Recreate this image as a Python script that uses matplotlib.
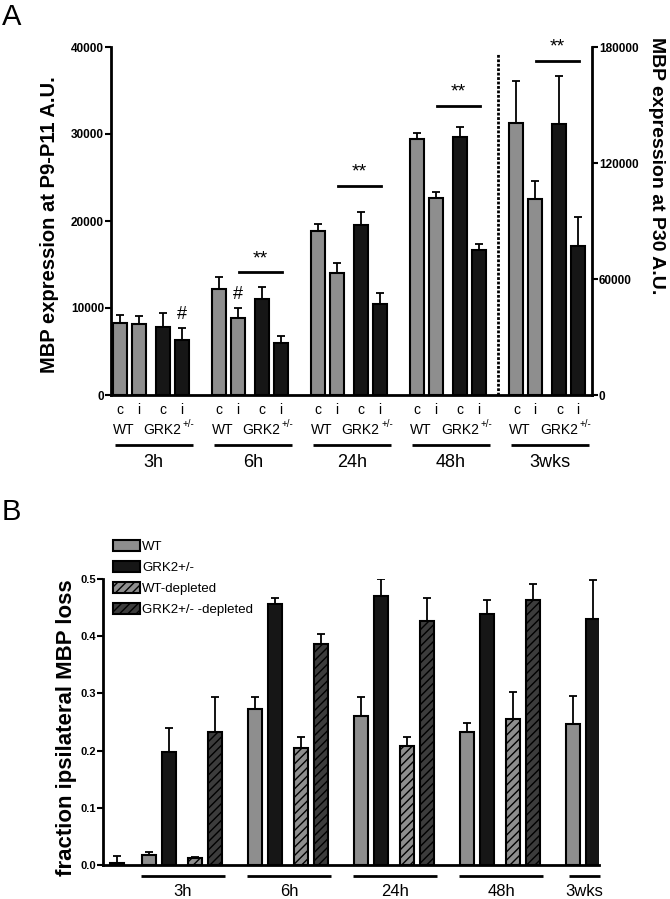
import numpy as np
import matplotlib.pyplot as plt

plt.rcParams['font.family'] = ['Liberation Sans', 'DejaVu Sans']
plt.rcParams['hatch.linewidth'] = 1.0

# ---- panel A data (P9-P11, left axis) ----
a_times = ['3h', '6h', '24h', '48h', '3wks']
a_wt_c = [8250, 12200, 18800, 29400]
a_wt_c_err = [1000, 1400, 850, 700]
a_wt_i = [8200, 8900, 14050, 22600]
a_wt_i_err = [900, 1100, 1100, 700]
a_grk_c = [7800, 11000, 19550, 29600]
a_grk_c_err = [1600, 1400, 1450, 1200]
a_grk_i = [6300, 6000, 10500, 16700]
a_grk_i_err = [1400, 800, 1200, 650]
# 3wks (P30, right axis): WT c, WT i, GRK c, GRK i
a_3wks = [140500, 101500, 140000, 77000]
a_3wks_err = [22000, 9000, 24800, 15200]
a_sig_left = [14100, 24050, 33250]   # ** lines for 6h, 24h, 48h
a_sig_right = 172900                 # ** line for 3wks
a_hash = [(0, 3, 9200), (1, 1, 11600)]  # (group, bar, y) of '#'

# ---- panel B data ----
b_times = ['3h', '6h', '24h', '48h', '3wks']
b_ctrl = [0.003]
b_ctrl_err = [0.013]
b_wt = [0.0175, 0.272, 0.261, 0.233, 0.246]
b_wt_err = [0.0055, 0.022, 0.033, 0.015, 0.049]
b_grk = [0.197, 0.456, 0.471, 0.438, 0.430]
b_grk_err = [0.042, 0.010, 0.029, 0.025, 0.069]
b_wt_dep = [0.0117, 0.205, 0.2085, 0.255]
b_wt_dep_err = [0.002, 0.019, 0.015, 0.048]
b_grk_dep = [0.232, 0.387, 0.427, 0.464]
b_grk_dep_err = [0.062, 0.017, 0.040, 0.028]

GREY = '#8e8e8e'
BLACK = '#161616'
DGREY = '#3c3c3c'
offs = np.array([0, 1, 2.3, 3.3])
period = 5.3

fig = plt.figure(figsize=(6.7, 8.99), dpi=100)

ekw = dict(capsize=3, elinewidth=1.3, capthick=1.3, ecolor='black')


def upbar(ax, x, h, err, w, **kw):
    h = np.asarray(h, float)
    return ax.bar(x, h, w, yerr=[np.zeros_like(h), err], error_kw=ekw,
                  edgecolor='black', linewidth=1.5, **kw)


# =================== panel A ===================
ax = fig.add_axes([111 / 670, 1 - 395 / 899, 481 / 670, 348 / 899])
g = np.arange(4) * period
w = 0.75
upbar(ax, g + offs[0], a_wt_c, a_wt_c_err, w, color=GREY)
upbar(ax, g + offs[1], a_wt_i, a_wt_i_err, w, color=GREY)
upbar(ax, g + offs[2], a_grk_c, a_grk_c_err, w, color=BLACK)
upbar(ax, g + offs[3], a_grk_i, a_grk_i_err, w, color=BLACK)

ax2 = ax.twinx()
x3 = 4 * period + offs
upbar(ax2, x3, a_3wks, a_3wks_err, w, color=[GREY, GREY, BLACK, BLACK])

ax.set_xlim(-0.48, 25.24)
ax.set_ylim(0, 40000)
ax2.set_ylim(0, 180000)
ax.set_yticks([0, 10000, 20000, 30000, 40000])
ax2.set_yticks([0, 60000, 120000, 180000])
for a in (ax, ax2):
    a.spines['top'].set_visible(False)
    a.tick_params(axis='y', length=4, width=1.5, labelsize=8.5, pad=1)
    for lab in a.get_yticklabels():
        lab.set_fontweight('bold')
ax.spines['right'].set_visible(False)
ax2.spines['left'].set_visible(False)
ax2.spines['bottom'].set_visible(False)
for s in ('left', 'bottom'):
    ax.spines[s].set_linewidth(2)
ax2.spines['right'].set_linewidth(2)

allx = (np.arange(5)[:, None] * period + offs[None, :]).ravel()
ax.set_xticks(allx)
ax.set_xticklabels(['c', 'i', 'c', 'i'] * 5, fontsize=10)
ax.tick_params(axis='x', length=0, pad=6)

xt = ax.get_xaxis_transform()
for k, t in enumerate(a_times):
    b = k * period
    ax.text(b + 0.2, -0.10, 'WT', transform=xt, ha='center', va='center', fontsize=10)
    gt = ax.text(b + 2.27, -0.10, 'GRK2', transform=xt, ha='center', va='center', fontsize=10)
    ax.annotate('+/-', xy=(1, 1), xycoords=gt, xytext=(1, -1),
                textcoords='offset points', ha='left', va='center', fontsize=7)
    ax.plot([b - 0.27, b + 3.9], [-0.144, -0.144], transform=xt, color='black',
            lw=2, clip_on=False, solid_capstyle='butt')
    ax.text(b + 1.8, -0.195, t, transform=xt, ha='center', va='center', fontsize=13)

# dotted separator
ax.axvline((3 * period + offs[3] + 4 * period) / 2, ymin=0, ymax=0.983,
           color='black', lw=2, dashes=(1.0, 0.6))

# significance
for k, y in enumerate(a_sig_left):
    b = (k + 1) * period
    ax.plot([b + 1.05, b + 3.35], [y, y], color='black', lw=2)
    ax.text(b + 2.2, y + 600, '**', ha='center', va='bottom', fontsize=14)
b = 4 * period
ax2.plot([b + 1.05, b + 3.35], [a_sig_right, a_sig_right], color='black', lw=2)
ax2.text(b + 2.2, a_sig_right + 2700, '**', ha='center', va='bottom', fontsize=14)
for gi, bi, y in a_hash:
    ax.text(gi * period + offs[bi], y, '#', ha='center', va='center', fontsize=13)

fig.text(50 / 670, 1 - 225 / 899, 'MBP expression at P9-P11 A.U.', rotation=90,
         ha='center', va='center', fontsize=14.5, fontweight='bold')
fig.text(657 / 670, 1 - 166 / 899, 'MBP expression at P30 A.U.', rotation=270,
         ha='center', va='center', fontsize=14, fontweight='bold')
fig.text(2 / 670, 1 - 3 / 899, 'A', ha='left', va='top', fontsize=21)

# =================== panel B ===================
bx = fig.add_axes([103 / 670, 1 - 865 / 899, 496 / 670, 286 / 899])
gb = 1.625 + np.arange(5) * period
gb4 = gb[:4]
wb = 0.7
upbar(bx, [0], b_ctrl, b_ctrl_err, wb, color='#c8c8c8')
h1 = upbar(bx, gb + offs[0], b_wt, b_wt_err, wb, color=GREY)
h2 = upbar(bx, gb + offs[1], b_grk, b_grk_err, wb, color=BLACK)
h3 = upbar(bx, gb4 + offs[2], b_wt_dep, b_wt_dep_err, wb, color=GREY, hatch='////')
h4 = upbar(bx, gb4 + offs[3], b_grk_dep, b_grk_dep_err, wb, color=DGREY, hatch='////')

bx.set_xlim(-0.675, 24.125)
bx.set_ylim(0, 0.5)
bx.set_yticks([0, 0.1, 0.2, 0.3, 0.4, 0.5])
bx.set_yticklabels(['0.0', '0.1', '0.2', '0.3', '0.4', '0.5'])
bx.set_xticks([])
bx.spines['top'].set_visible(False)
bx.spines['right'].set_visible(False)
for s in ('left', 'bottom'):
    bx.spines[s].set_linewidth(2)
bx.tick_params(axis='y', length=4, width=1.5, labelsize=8, pad=1)
for lab in bx.get_yticklabels():
    lab.set_fontweight('bold')

xtb = bx.get_xaxis_transform()
for k, t in enumerate(b_times):
    b = gb[k]
    x0, x1 = (b - 0.4, b + 3.8) if k < 4 else (b - 0.2, b + 1.35)
    bx.plot([x0, x1], [-0.038, -0.038], transform=xtb, color='black', lw=2,
            clip_on=False, solid_capstyle='butt')
    bx.text((x0 + x1) / 2, -0.094, t, transform=xtb, ha='center', va='center', fontsize=12)

bx.legend([h1, h2, h3, h4], ['WT', 'GRK2+/-', 'WT-depleted', 'GRK2+/- -depleted'],
          loc='upper left', bbox_to_anchor=(113 / 670, 1 - 540 / 899),
          bbox_transform=fig.transFigure, frameon=False, fontsize=9.5,
          handlelength=2.05, handleheight=0.9, labelspacing=0.6,
          handletextpad=0.15, borderpad=0, borderaxespad=0)

fig.text(67 / 670, 1 - 728 / 899, 'fraction ipsilateral MBP loss', rotation=90,
         ha='center', va='center', fontsize=16, fontweight='bold')
fig.text(2 / 670, 1 - 498 / 899, 'B', ha='left', va='top', fontsize=21)

plt.savefig('out.png', dpi=100)
plt.close()
